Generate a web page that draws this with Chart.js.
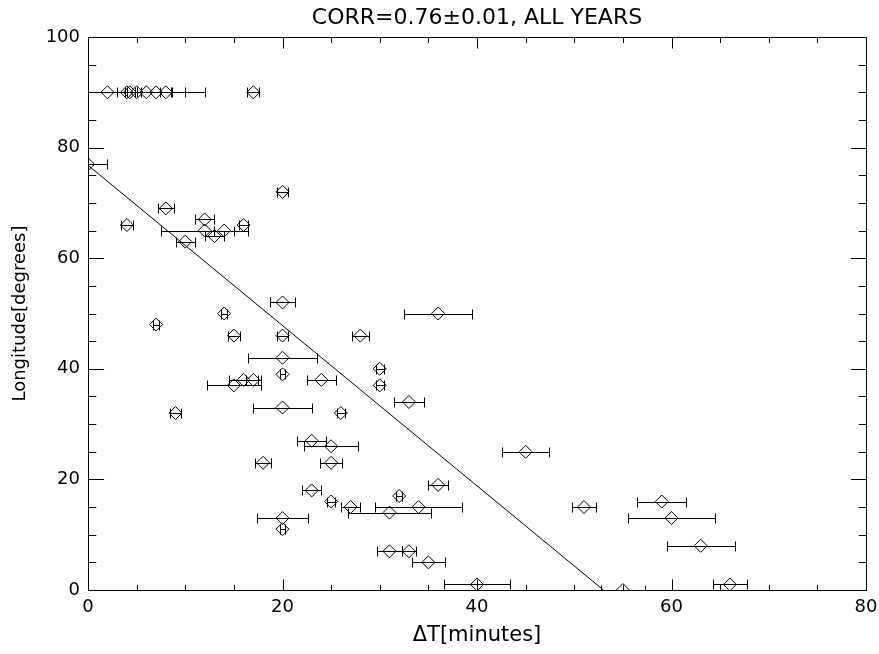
<!DOCTYPE html>
<html>
<head>
<meta charset="utf-8">
<script src="https://cdn.jsdelivr.net/npm/chart.js@4.4.0/dist/chart.umd.min.js"></script>
<style>
  html, body { margin: 0; padding: 0; background: #fff; }
  canvas { display: block; }
</style>
</head>
<body>
<canvas id="chart" width="879" height="654"></canvas>
<script>
// valori: ritardo (minuti), longitudine (gradi), errore su x
const delayMin = [2, 4, 4.3, 5, 6, 7, 8, 17,
    0, 20, 8, 4, 12, 12, 14, 13, 16, 10,
    7, 14, 20, 15, 20, 36, 28, 20, 30, 20, 24, 16, 17, 15, 30, 20, 33, 9, 26,
    23, 25, 25, 18, 45, 36, 23, 32, 25, 27, 34, 31, 51, 59, 60, 20, 20,
    31, 33, 35, 63, 40, 55, 66];
const longitudeDeg = [90, 90, 90, 90, 90, 90, 90, 90,
    77, 72, 69, 66, 67, 65, 65, 64, 66, 63,
    48, 50, 52, 46, 46, 50, 46, 42, 40, 39, 38, 38, 38, 37, 37, 33, 34, 32, 32,
    27, 26, 23, 23, 25, 19, 18, 17, 16, 15, 15, 14, 15, 16, 13, 13, 11,
    7, 7, 5, 8, 1, 0, 1];
const delayErr = [2, 1, 0.5, 5, 6, 1.5, 0.6, 0.6,
    2, 0.6, 0.8, 0.6, 1, 4.5, 1, 1, 0.5, 1,
    0.3, 0.3, 1.3, 0.65, 0.6, 3.5, 0.9, 3.5, 0.4, 0.3, 1.45, 1.5, 0.8, 2.75, 0.4, 3, 1.5, 0.6, 0.4,
    1.5, 2.8, 1.1, 0.8, 2.4, 1, 1, 0.3, 0.4, 1, 4.5, 4.3, 1.2, 2.5, 4.5, 2.6, 0.3,
    1.3, 0.7, 1.7, 3.5, 3.4, 2.3, 1.75];

// retta di regressione (estremi)
const fitX = [0, 53];
const fitY = [76.8, 0];

const xTicks = [0, 20, 40, 60, 80];
const yTicks = [0, 20, 40, 60, 80, 100];

const FONT = "'DejaVu Sans', 'Liberation Sans', sans-serif";

// Plugin: cornice in stile IDL con tacche verso l'interno + barre d'errore
const idlFrame = {
    id: 'idlFrame',
    beforeDatasetsDraw(chart) {
        const ctx = chart.ctx;
        const xs = chart.scales.x, ys = chart.scales.y;
        const area = chart.chartArea;
        ctx.save();
        ctx.beginPath();
        ctx.rect(area.left, area.top, area.right - area.left, area.bottom - area.top);
        ctx.clip();
        ctx.strokeStyle = '#000';
        ctx.lineWidth = 1;
        const cap = 5;
        for (let i = 0; i < delayMin.length; i++) {
            const y = Math.round(ys.getPixelForValue(longitudeDeg[i])) + 0.5;
            const x1 = Math.round(xs.getPixelForValue(delayMin[i] - delayErr[i])) + 0.5;
            const x2 = Math.round(xs.getPixelForValue(delayMin[i] + delayErr[i])) + 0.5;
            ctx.beginPath();
            ctx.moveTo(x1, y); ctx.lineTo(x2, y);
            ctx.moveTo(x1, y - cap); ctx.lineTo(x1, y + cap);
            ctx.moveTo(x2, y - cap); ctx.lineTo(x2, y + cap);
            ctx.stroke();
        }
        ctx.restore();
    },
    afterDraw(chart) {
        const ctx = chart.ctx;
        const xs = chart.scales.x, ys = chart.scales.y;
        const a = chart.chartArea;
        const L = Math.round(a.left) + 0.5, R = Math.round(a.right) + 0.5;
        const T = Math.round(a.top) + 0.5, B = Math.round(a.bottom) + 0.5;
        ctx.save();
        ctx.strokeStyle = '#000';
        ctx.lineWidth = 1;
        ctx.strokeRect(L, T, R - L, B - T);
        ctx.beginPath();
        // tacche asse x (sotto e sopra)
        const xMajor = 0.02 * (B - T);
        for (let v = 0; v <= 80; v += 5) {
            const len = (v % 20 === 0) ? xMajor : xMajor / 2;
            const px = Math.round(xs.getPixelForValue(v)) + 0.5;
            ctx.moveTo(px, B); ctx.lineTo(px, B - len);
            ctx.moveTo(px, T); ctx.lineTo(px, T + len);
        }
        // tacche asse y (sinistra e destra)
        const yMajor = 0.02 * (R - L);
        for (let v = 0; v <= 100; v += 5) {
            const len = (v % 20 === 0) ? yMajor : yMajor / 2;
            const py = Math.round(ys.getPixelForValue(v)) + 0.5;
            ctx.moveTo(L, py); ctx.lineTo(L + len, py);
            ctx.moveTo(R, py); ctx.lineTo(R - len, py);
        }
        ctx.stroke();
        ctx.restore();
    }
};

const points = delayMin.map((x, i) => ({ x: x, y: longitudeDeg[i] }));
const fitLine = fitX.map((x, i) => ({ x: x, y: fitY[i] }));

new Chart(document.getElementById('chart'), {
    type: 'scatter',
    data: {
        datasets: [
            {
                type: 'line',
                data: fitLine,
                borderColor: '#000',
                borderWidth: 1,
                pointRadius: 0,
                fill: false
            },
            {
                data: points,
                pointStyle: 'rectRot',
                pointRadius: 6.5,
                borderColor: '#000',
                borderWidth: 1,
                backgroundColor: 'rgba(0,0,0,0)'
            }
        ]
    },
    options: {
        responsive: false,
        animation: false,
        devicePixelRatio: 1,
        layout: { padding: { left: 0, right: 13, top: 0, bottom: 0 } },
        plugins: {
            legend: { display: false },
            tooltip: { enabled: false },
            title: {
                display: true,
                fullSize: false,
                text: 'CORR=0.76±0.01, ALL YEARS',
                color: '#000',
                font: { family: FONT, size: 22, weight: 'normal', lineHeight: 1.2 },
                padding: { top: 5, bottom: 5.6 }
            }
        },
        scales: {
            x: {
                type: 'linear',
                min: 0, max: 80,
                afterBuildTicks: (s) => { s.ticks = xTicks.map(v => ({ value: v })); },
                afterFit: (s) => { s.height = 64; s.paddingRight = 0; },
                grid: { display: false, drawTicks: false },
                border: { display: false },
                ticks: {
                    color: '#000',
                    padding: 7,
                    maxRotation: 0,
                    font: { family: FONT, size: 18 }
                },
                title: {
                    display: true,
                    text: 'ΔT[minutes]',
                    color: '#000',
                    font: { family: FONT, size: 21, lineHeight: 1.2 },
                    padding: { top: 0, bottom: 6 }
                }
            },
            y: {
                type: 'linear',
                min: 0, max: 100,
                afterBuildTicks: (s) => { s.ticks = yTicks.map(v => ({ value: v })); },
                afterFit: (s) => { s.width = 88; },
                grid: { display: false, drawTicks: false },
                border: { display: false },
                ticks: {
                    color: '#000',
                    padding: 8,
                    font: { family: FONT, size: 18 }
                },
                title: {
                    display: true,
                    text: 'Longitude[degrees]',
                    color: '#000',
                    font: { family: FONT, size: 18, lineHeight: 1.2 },
                    padding: { top: 10, bottom: 0 }
                }
            }
        }
    },
    plugins: [idlFrame]
});
</script>
</body>
</html>
